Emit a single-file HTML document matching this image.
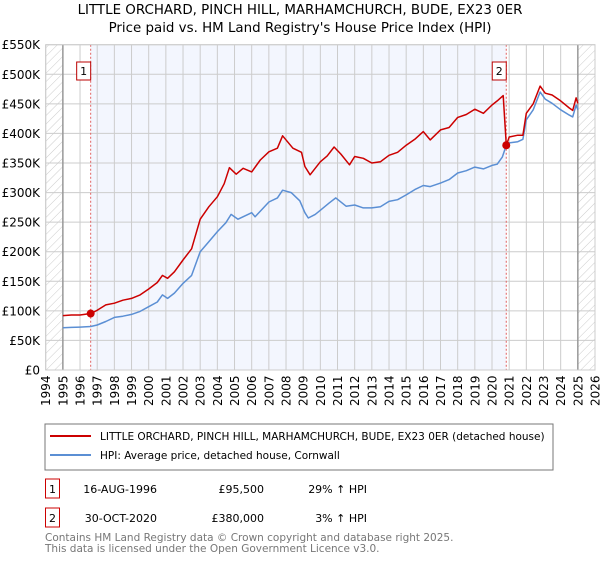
<!DOCTYPE html>
<html><head><meta charset="utf-8"><style>
body{margin:0;background:#fff;font-family:"Liberation Sans","DejaVu Sans",sans-serif;}
svg text{font-family:"DejaVu Sans","Liberation Sans",sans-serif;}
</style></head><body>
<svg id="chart" width="600" height="560" xmlns="http://www.w3.org/2000/svg">
<defs><pattern id="hatch" patternUnits="userSpaceOnUse" width="6" height="6" patternTransform="rotate(45)"><line x1="0" y1="0" x2="0" y2="6" stroke="#ccc" stroke-width="1"/></pattern></defs>
<text x="300" y="14" text-anchor="middle" font-size="13.4">LITTLE ORCHARD, PINCH HILL, MARHAMCHURCH, BUDE, EX23 0ER</text>
<text x="300" y="32" text-anchor="middle" font-size="13.4">Price paid vs. HM Land Registry's House Price Index (HPI)</text>
<g id="plot"></g>
<g id="legend">
<rect x="45" y="424" width="508" height="46" fill="#fff" stroke="#777"/>
<line x1="50" y1="436" x2="91" y2="436" stroke="#cc0000" stroke-width="2"/>
<text x="100" y="440" font-size="10.5">LITTLE ORCHARD, PINCH HILL, MARHAMCHURCH, BUDE, EX23 0ER (detached house)</text>
<line x1="50" y1="455" x2="91" y2="455" stroke="#5b8fd4" stroke-width="2"/>
<text x="100" y="459" font-size="10.5">HPI: Average price, detached house, Cornwall</text>
</g>
<g font-size="11">
<rect x="45.5" y="479" width="14" height="19" fill="#fff" stroke="#cc0000"/><text x="52.5" y="493" text-anchor="middle">1</text>
<text x="157" y="493" text-anchor="end">16-AUG-1996</text><text x="264" y="493" text-anchor="end">£95,500</text><text x="367" y="493" text-anchor="end">29% ↑ HPI</text>
</g>
<g font-size="11">
<rect x="45.5" y="508" width="14" height="19" fill="#fff" stroke="#cc0000"/><text x="52.5" y="522" text-anchor="middle">2</text>
<text x="157" y="522" text-anchor="end">30-OCT-2020</text><text x="264" y="522" text-anchor="end">£380,000</text><text x="367" y="522" text-anchor="end">3% ↑ HPI</text>
</g>
<text x="45" y="541" font-size="10.5" fill="#777">Contains HM Land Registry data © Crown copyright and database right 2025.</text>
<text x="45" y="552" font-size="10.5" fill="#777">This data is licensed under the Open Government Licence v3.0.</text>
</svg>
<script>
const yearTicks=[1994,1995,1996,1997,1998,1999,2000,2001,2002,2003,2004,2005,2006,2007,2008,2009,2010,2011,2012,2013,2014,2015,2016,2017,2018,2019,2020,2021,2022,2023,2024,2025,2026];
const priceTicks=[0,50000,100000,150000,200000,250000,300000,350000,400000,450000,500000,550000];
const priceTickLabels=["£0","£50K","£100K","£150K","£200K","£250K","£300K","£350K","£400K","£450K","£500K","£550K"];
const redYears=[1995,1995.5,1996,1996.62,1997,1997.5,1998,1998.5,1999,1999.5,2000,2000.5,2000.8,2001.1,2001.5,2002,2002.5,2003,2003.5,2004,2004.4,2004.7,2005.1,2005.5,2006,2006.5,2007,2007.5,2007.8,2008.4,2008.9,2009.1,2009.4,2010,2010.4,2010.8,2011.2,2011.7,2012,2012.5,2013,2013.5,2014,2014.5,2015,2015.5,2016,2016.4,2017,2017.5,2018,2018.5,2019,2019.5,2020,2020.3,2020.65,2020.83,2021,2021.5,2021.8,2022,2022.4,2022.8,2023.1,2023.5,2024,2024.5,2024.7,2024.9,2025];
const redValues=[92000,93000,93000,95500,101000,110000,113000,118000,121000,127000,137000,148000,160000,155000,166000,186000,205000,255000,276000,293000,315000,342000,331000,341000,335000,355000,369000,375000,396000,375000,368000,344000,330000,352000,362000,377000,365000,347000,361000,358000,350000,352000,363000,368000,380000,390000,403000,389000,406000,410000,427000,432000,441000,434000,448000,455000,464000,380000,394000,397000,397000,434000,450000,480000,468000,465000,455000,443000,439000,460000,451000];
const hpiYears=[1995,1995.5,1996,1996.62,1997,1997.5,1998,1998.5,1999,1999.5,2000,2000.5,2000.8,2001.1,2001.5,2002,2002.5,2003,2003.5,2004,2004.5,2004.8,2005.2,2006,2006.2,2007,2007.5,2007.8,2008.3,2008.8,2009.1,2009.3,2009.7,2010,2010.5,2010.9,2011.5,2012,2012.5,2013,2013.5,2014,2014.5,2015,2015.5,2016,2016.4,2017,2017.5,2018,2018.5,2019,2019.5,2020,2020.3,2020.6,2020.83,2021,2021.5,2021.8,2022,2022.4,2022.8,2023.1,2023.5,2024,2024.5,2024.7,2024.9,2025];
const hpiValues=[71500,72000,72500,73500,76000,82000,89000,91000,94000,99000,107000,115000,127000,121000,130000,146500,160000,200000,217000,234000,249000,263000,255000,266000,259000,284000,291000,304000,300000,286000,266000,257000,263000,270000,282000,291000,277000,279000,274000,274000,276000,285000,288000,296000,305000,312000,310000,316000,322000,333000,337000,343000,340000,346000,348000,360000,380000,384000,386000,390000,423000,440000,470000,458000,451000,440000,431000,428000,448000,440000];
const sales=[{label:"1",year:1996.62,price:95500},{label:"2",year:2020.83,price:380000}];

const L=45.7,R=595,T=44.7,B=370;
const x=y=>L+(y-1994)*(R-L)/32;
const yv=v=>B-v*(B-T)/550000;
const ns="http://www.w3.org/2000/svg";
const g=document.getElementById('plot');
function el(tag,attrs){const e=document.createElementNS(ns,tag);for(const k in attrs)e.setAttribute(k,attrs[k]);g.appendChild(e);return e;}
let e;
e=el('rect',{x:x(sales[0].year),y:T,width:x(sales[1].year)-x(sales[0].year),height:B-T,fill:'#f3f6fe'});


e=el('rect',{x:L,y:T,width:x(1995)-L,height:B-T,fill:'url(#hatch)'});


e=el('rect',{x:x(2025),y:T,width:R-x(2025),height:B-T,fill:'url(#hatch)'});


yearTicks.forEach(yr=>{
  e=el('line',{x1:x(yr),x2:x(yr),y1:T,y2:B,stroke:'#ccc','stroke-width':1});
  
  
  e=el('text',{x:0,y:0,transform:`translate(${x(yr)+4.5},${B+36}) rotate(-90)`,'font-size':12});
  e.textContent=yr;
  
  
});
priceTicks.forEach((p,i)=>{
  e=el('line',{x1:L,x2:R,y1:yv(p),y2:yv(p),stroke:'#ccc','stroke-width':1});
  
  
  e=el('text',{x:40,y:yv(p)+4.5,'text-anchor':'end','font-size':12});
  e.textContent=priceTickLabels[i];
  
  
});
[1995,2025].forEach(yr=>{
  e=el('line',{x1:x(yr),x2:x(yr),y1:T,y2:B,stroke:'#999','stroke-width':1.5});
  
  
});
sales.forEach(s=>{
  e=el('line',{x1:x(s.year),x2:x(s.year),y1:T,y2:B,stroke:'#e06060','stroke-width':1,'stroke-dasharray':'2,2'});
  
  
  e=el('rect',{x:x(s.year)-14,y:62,width:14,height:18,fill:'#fff',stroke:'#b00'});
  
  
  e=el('text',{x:x(s.year)-7,y:75,'text-anchor':'middle','font-size':11});
  e.textContent=s.label;
  
  
});
function line(xs,vs,col,name){
  const d=xs.map((a,i)=>(i?'L':'M')+x(a).toFixed(1)+','+yv(vs[i]).toFixed(1)).join('');
  const p=el('path',{d:d,fill:'none',stroke:col,'stroke-width':1.5,'stroke-linejoin':'round'});
  
  
}
line(hpiYears,hpiValues,'#5b8fd4','hpi-line');
line(redYears,redValues,'#cc0000','property-price-line');
sales.forEach(s=>{
  e=el('circle',{cx:x(s.year),cy:yv(s.price),r:4,fill:'#cc0000'});
  
  
});
e=el('rect',{x:L,y:T,width:R-L,height:B-T,fill:'none',stroke:'#ccc'});


</script>
</body></html>
